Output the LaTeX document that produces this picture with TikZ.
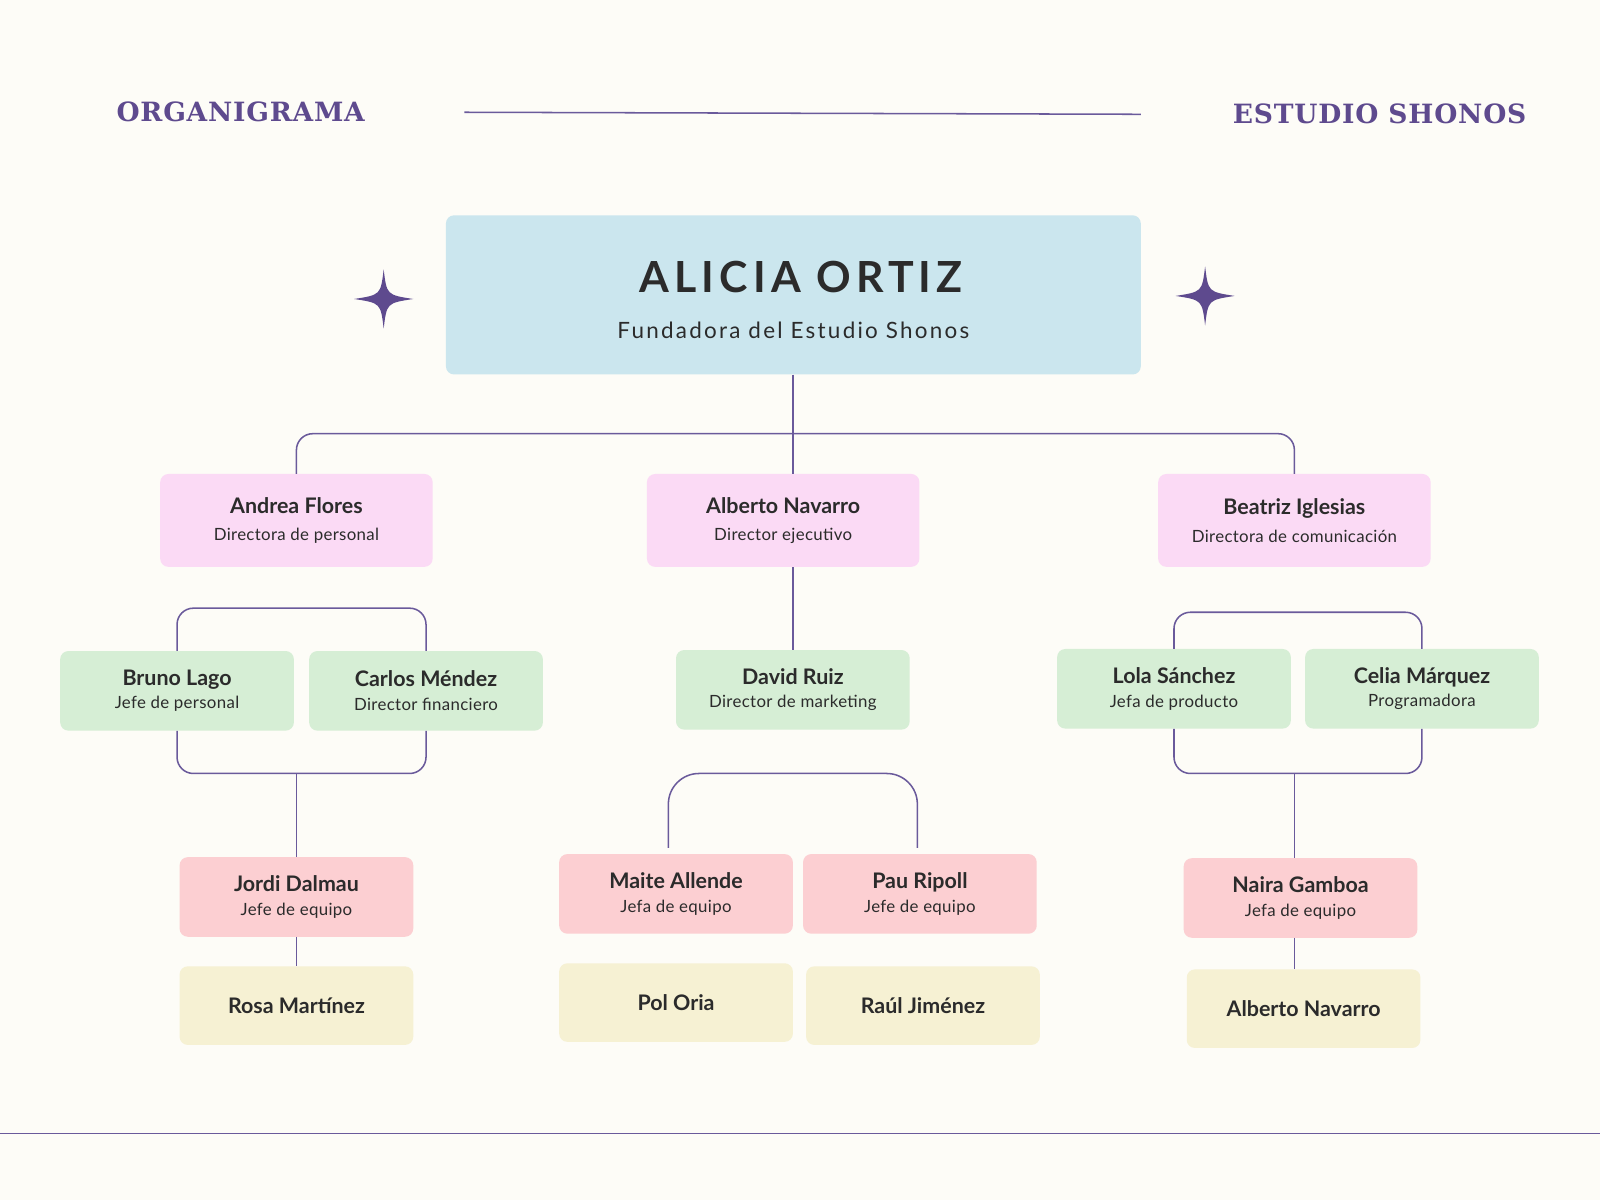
\documentclass[tikz,border=0pt]{standalone}
\usepackage{fontspec}
\setmainfont{Lato}
\newfontfamily\hdfont{DejaVu Serif}
\newcommand{\nmf}{\fontsize{21}{24}\selectfont\bfseries}
\newcommand{\sbf}{\fontsize{16.5}{19}\selectfont}
\newcommand{\pr}[2]{{\nmf #1}\\{\sbf\addfontfeatures{LetterSpace=2} #2}}
\definecolor{bg}{HTML}{FDFCF7}
\definecolor{pur}{HTML}{5E4A8E}
\definecolor{lin}{HTML}{6A5A9B}
\definecolor{cblue}{HTML}{CBE6EE}
\definecolor{cpink}{HTML}{FBDAF5}
\definecolor{cgreen}{HTML}{D6EED5}
\definecolor{cred}{HTML}{FCCFD2}
\definecolor{cyel}{HTML}{F6F1D3}
\definecolor{txt}{HTML}{2B2B2B}
\begin{document}
\begin{tikzpicture}[x=1pt,y=-1pt,
  box/.style={rounded corners=8pt,draw=none,align=center,text=txt,inner sep=0pt},
  b1/.style={box,fill=cpink,minimum width=267pt,minimum height=91pt,font=\fontsize{16.5}{27}\selectfont},
  b2/.style={box,fill=cgreen,minimum width=229pt,minimum height=78pt,font=\fontsize{16.5}{23}\selectfont},
  b3/.style={box,fill=cred,minimum width=229pt,minimum height=78pt,font=\fontsize{16.5}{23}\selectfont},
  b4/.style={box,fill=cyel,minimum width=229pt,minimum height=77pt,font=\nmf},
  conn/.style={draw=lin,line width=1.5pt},
  star/.style={fill=pur,draw=none}]
\fill[bg] (0,0) rectangle (1568,1176);
\useasboundingbox (0,0) rectangle (1568,1176);
% header
\node[anchor=west,text=pur,font=\hdfont\fontsize{26}{30}\selectfont\bfseries\addfontfeatures{LetterSpace=3},inner sep=0] (t1) at (114,110) {ORGANIGRAMA};
\node[anchor=east,text=pur,font=\hdfont\fontsize{26}{30}\selectfont\bfseries\addfontfeatures{LetterSpace=3},inner sep=0] (t2) at (1496,112) {ESTUDIO SHONOS};
\coordinate (h1) at (455,110); \coordinate (h2) at (1118,112);
\draw[conn] (h1) -- (h2);
\coordinate (f1) at (0,1111); \coordinate (f2) at (1568,1111);
\draw[conn] (f1) -- (f2);
% stars
\foreach \cx/\cy in {376/293,1181/290}{
 \fill[star] (\cx,\cy-29) .. controls (\cx+3,\cy-4) .. (\cx+29,\cy) .. controls (\cx+3,\cy+4) .. (\cx,\cy+29) .. controls (\cx-3,\cy+4) .. (\cx-29,\cy) .. controls (\cx-3,\cy-4) .. cycle;}
% top
\node[box,fill=cblue,minimum width=681pt,minimum height=156pt] (alicia) at (777.5,289) {};
\node[text=txt,font=\fontsize{42}{48}\selectfont\bfseries\addfontfeatures{LetterSpace=12}] (an) at (785,271) {ALICIA ORTIZ};
\node[text=txt,font=\fontsize{22}{26}\selectfont\addfontfeatures{LetterSpace=10}] (as) at (777.5,324) {Fundadora del Estudio Shonos};
% level 1
\node[b1] (andrea) at (290.5,510) {\pr{Andrea Flores}{Directora de personal}};
\node[b1] (alberto) at (767.5,510) {\pr{Alberto Navarro}{Director ejecutivo}};
\node[b1] (beatriz) at (1268.5,510) {\pr{Beatriz Iglesias}{Directora de comunicación}};
% level 2
\node[b2] (bruno) at (173.5,677) {\pr{Bruno Lago}{Jefe de personal}};
\node[b2] (carlos) at (417.5,677) {\pr{Carlos Méndez}{Director financiero}};
\node[b2] (david) at (777,676) {\pr{David Ruiz}{Director de marketing}};
\node[b2] (lola) at (1150.5,675) {\pr{Lola Sánchez}{Jefa de producto}};
\node[b2] (celia) at (1393.5,675) {\pr{Celia Márquez}{Programadora}};
% level 3
\node[b3] (jordi) at (290.5,879) {\pr{Jordi Dalmau}{Jefe de equipo}};
\node[b3] (maite) at (662.5,876) {\pr{Maite Allende}{Jefa de equipo}};
\node[b3] (pau) at (901.5,876) {\pr{Pau Ripoll}{Jefe de equipo}};
\node[b3] (naira) at (1274.5,880) {\pr{Naira Gamboa}{Jefa de equipo}};
% level 4
\node[b4] (rosa) at (290.5,985.5) {Rosa Martínez};
\node[b4] (pol) at (662.5,982.5) {Pol Oria};
\node[b4] (raul) at (904.5,985.5) {Raúl Jiménez};
\node[b4] (alb2) at (1277.5,988.5) {Alberto Navarro};
% connectors
\coordinate (j1) at (777,425);
\draw[conn] (alicia.south -| j1) -- (alberto.north -| j1);
\draw[conn,rounded corners=16pt] (andrea.north) |- (j1) -| (beatriz.north);
\draw[conn] (alberto.south -| david.north) -- (david.north);
\coordinate (j2) at (290.5,596);
\draw[conn,rounded corners=16pt] (bruno.north) |- (j2) -| (carlos.north);
\coordinate (j3) at (290.5,758);
\draw[conn,rounded corners=16pt] (bruno.south) |- (j3) -| (carlos.south);
\draw[conn] (j3) -- (jordi.north);
\draw[conn] (jordi.south) -- (rosa.north);
\coordinate (m1) at (655,831); \coordinate (p1) at (899,831); \coordinate (j4) at (777,758);
\draw[conn,rounded corners=30pt] (m1) |- (j4) -| (p1);
\coordinate (j5) at (1268.5,600);
\draw[conn,rounded corners=16pt] (lola.north) |- (j5) -| (celia.north);
\coordinate (j6) at (1268.5,758);
\draw[conn,rounded corners=16pt] (lola.south) |- (j6) -| (celia.south);
\draw[conn] (j6) -- (j6 |- naira.north);
\draw[conn] (j6 |- naira.south) -- (j6 |- alb2.north);
\end{tikzpicture}
\end{document}
